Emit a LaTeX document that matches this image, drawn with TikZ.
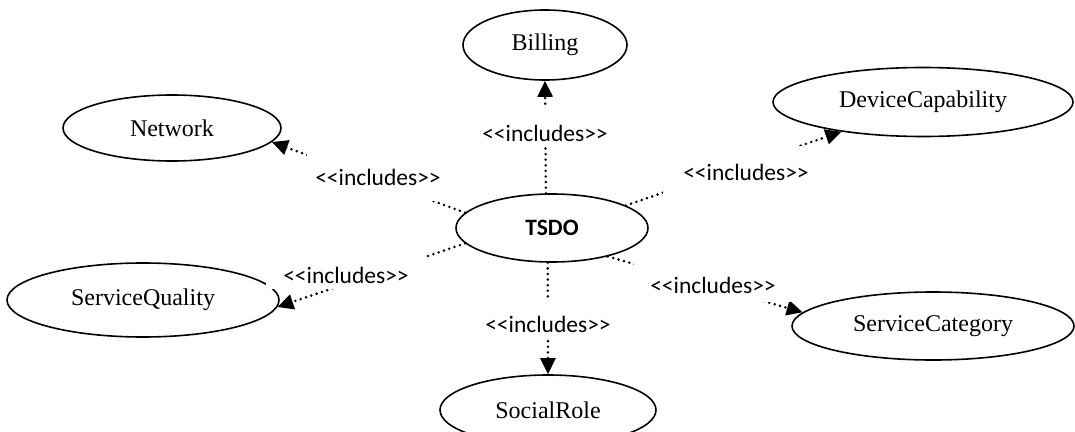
\documentclass[tikz,border=0pt]{standalone}
\usepackage{fontspec}
\setmainfont{Liberation Serif}
\newfontfamily\labelfont{Carlito}
\usetikzlibrary{shapes.geometric,arrows.meta}
\begin{document}
\begin{tikzpicture}[x=1pt,y=-1pt,
  usecase/.style={ellipse,draw,line width=1.6pt,inner sep=0pt,
    font=\fontsize{24}{28}\selectfont},
  core/.style={usecase,font=\labelfont\bfseries\fontsize{23.5}{28}\selectfont},
  include/.style={line width=2.8pt,line cap=round,dash pattern=on 0pt off 5.6pt,
    -{Triangle[length=16pt,width=15pt]}},
  stereo/.style={fill=white,inner xsep=4pt,inner ysep=6pt,text height=28pt,
    text depth=0pt,anchor=base,font=\labelfont\fontsize{23.5}{28}\selectfont}]
\useasboundingbox (0,0) rectangle (1075,431);
\clip (0,0) rectangle (1075,431);

% use cases
\node[core,minimum width=192pt,minimum height=68pt] (tsdo) at (552,228) {TSDO};
\node[usecase,minimum width=164pt,minimum height=70pt] (billing) at (545,45) {Billing};
\node[usecase,minimum width=218pt,minimum height=66pt] (network) at (172,128) {Network};
\node[usecase,minimum width=300pt,minimum height=69pt] (devcap) at (923,102) {DeviceCapability};
\node[usecase,minimum width=272pt,minimum height=74pt] (squality) at (143,300) {ServiceQuality};
\node[usecase,minimum width=282pt,minimum height=68pt] (scategory) at (933,326) {ServiceCategory};
\node[usecase,minimum width=216pt,minimum height=70pt] (socialrole) at (548,410) {SocialRole};

% include relations
\draw[include] (tsdo.100) -- (billing.south);
\draw[include] (tsdo.170) -- (network.-8);
\draw[include] (tsdo.17) -- (devcap.200);
\draw[include] (tsdo.190) -- (squality.-3);
\draw[include] (tsdo.-27) -- (scategory.174);
\draw[include] (tsdo.263) -- (socialrole.north);

% stereotype labels (white boxes break the dotted lines)
\node[stereo] (lbilling) at (545,141) {<<includes>>};
\node[stereo,inner xsep=8pt,text depth=10pt] (lnetwork) at (378,185) {<<includes>>};
\node[stereo,inner xsep=20pt,text depth=8pt] (ldevcap) at (746,180) {<<includes>>};
\node[stereo,inner xsep=17pt] (lsquality) at (346,283) {<<includes>>};
\node[stereo,inner xsep=16pt,text depth=3pt] (lscategory) at (713,293) {<<includes>>};
\node[stereo] (lsocialrole) at (548,332) {<<includes>>};
\end{tikzpicture}
\end{document}
